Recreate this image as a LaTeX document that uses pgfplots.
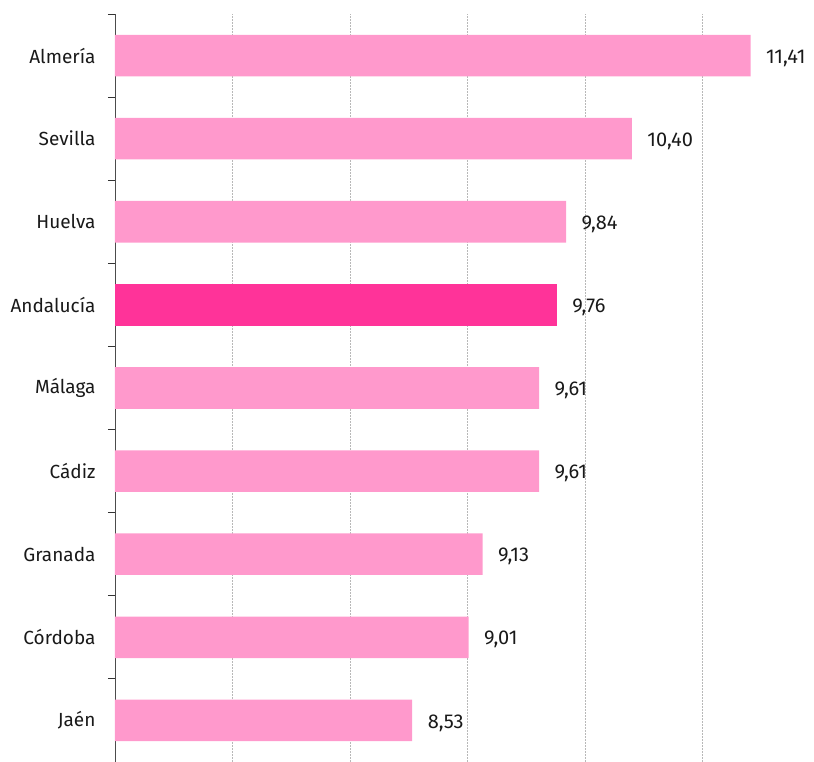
\documentclass[border=0pt]{standalone}
\usepackage{fontspec}
\setmainfont{Fira Sans}
\usepackage{pgfplots}
\pgfplotsset{compat=1.18}
\definecolor{lpink}{HTML}{FF99CC}
\definecolor{dpink}{HTML}{FF3399}
\begin{document}
\begin{tikzpicture}
\begin{axis}[
  width=699pt, height=748pt, scale only axis,
  xmin=6, xmax=11.95, ymin=-0.5, ymax=8.5,
  xbar, bar width=0.5, bar shift=0pt,
  axis lines*=left,
  x axis line style={draw=none},
  y axis line style={-, draw=black!70, line width=0.8pt},
  xtick={7,8,9,10,11}, xticklabels={},
  xmajorgrids, major grid style={dash pattern=on 2pt off 1pt, black!28, line width=0.5pt},
  ytick={0,...,8},
  yticklabels={Jaén,Córdoba,Granada,Cádiz,Málaga,Andalucía,Huelva,Sevilla,Almería},
  minor ytick={-0.5,0.5,...,8.5},
  major tick length=0pt, minor tick length=7pt, tick align=outside,
  ytick pos=left,
  every minor tick/.style={black!80, line width=0.8pt},
  yticklabel style={font=\fontsize{19}{22}\selectfont, xshift=-16pt, text=black!90},
  nodes near coords,
  nodes near coords style={font=\fontsize{20}{24}\selectfont, anchor=west, xshift=12pt, yshift=-2.5pt, text=black!90,
    /pgf/number format/.cd, use comma, fixed, fixed zerofill, precision=2, assume math mode=true},
]
\addplot[fill=lpink, draw=none] coordinates {(8.53,0) (9.01,1) (9.13,2) (9.61,3) (9.61,4) (9.84,6) (10.40,7) (11.41,8)};
\addplot[fill=dpink, draw=none] coordinates {(9.76,5)};
\coordinate (sw) at (rel axis cs:0,0);
\coordinate (ne) at (rel axis cs:1,1);
\end{axis}
\pgfresetboundingbox
\path ([xshift=-115pt]sw) rectangle ([yshift=14pt]ne);
\end{tikzpicture}
\end{document}
